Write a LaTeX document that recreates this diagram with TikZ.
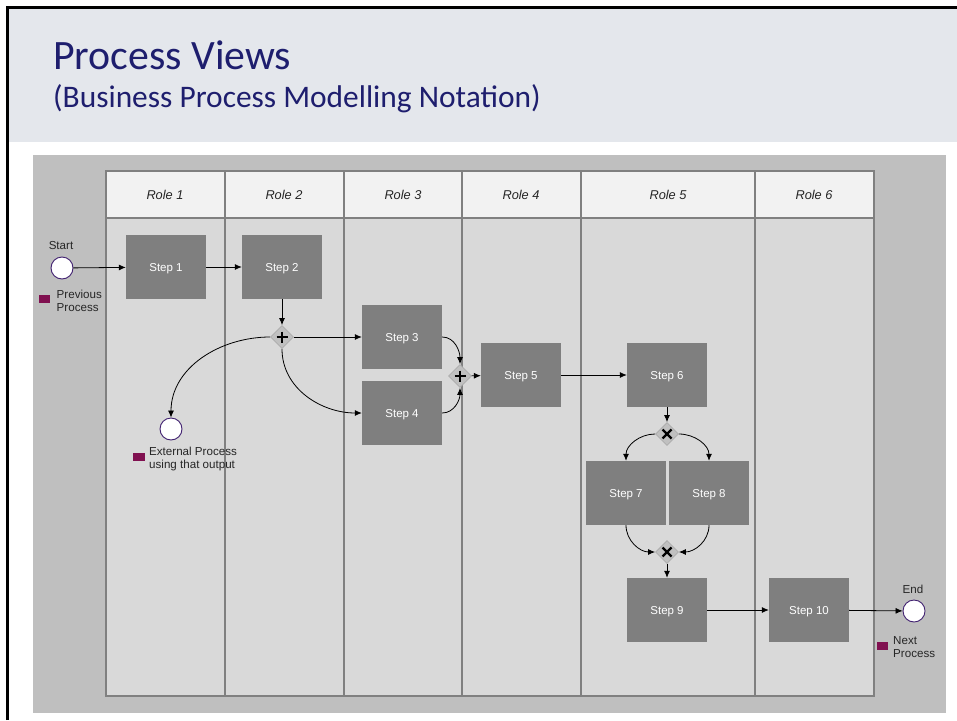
\documentclass[tikz,border=0pt]{standalone}
\usepackage{fontspec}
\setmainfont{Liberation Sans}
\newfontfamily\titlefont{Carlito}
\usetikzlibrary{shapes.geometric,arrows.meta}

\definecolor{hdrband}{RGB}{228,231,236}
\definecolor{panel}{RGB}{191,191,191}
\definecolor{lanefill}{RGB}{217,217,217}
\definecolor{rolefill}{RGB}{242,242,242}
\definecolor{laneline}{RGB}{128,128,128}
\definecolor{stepfill}{RGB}{127,127,127}
\definecolor{titlenavy}{RGB}{30,30,110}
\definecolor{procmarkfill}{RGB}{128,16,80}
\definecolor{evborder}{RGB}{64,32,112}
\definecolor{gwfill}{RGB}{192,192,192}
\definecolor{gwborder}{RGB}{172,172,172}

\tikzset{
  stepbox/.style={rectangle, fill=stepfill, minimum width=80pt, minimum height=64pt,
    inner sep=0pt, text=white, font=\fontsize{11.5}{13}\selectfont,
    text height=8.2pt, text depth=0pt},
  gateway/.style={diamond, fill=gwfill, draw=gwborder, line width=0.8pt,
    minimum width=23pt, minimum height=23pt, inner sep=0pt},
  event/.style={circle, fill=white, draw=evborder, line width=0.9pt,
    minimum size=22pt, inner sep=0pt},
  flow/.style={-{Latex[length=7pt,width=6pt]}, line width=0.8pt, black},
  roletext/.style={font=\fontsize{12.8}{14}\selectfont\itshape, text=black!85},
  smalltext/.style={font=\fontsize{11.6}{13.5}\selectfont, align=left, inner sep=0pt, text=black!85},
  procmark/.style={fill=procmarkfill, draw=none},
  plussign/.pic={\draw[line width=2.3pt] (-5.5,0) -- (5.5,0) (0,-5.5) -- (0,5.5);},
  xsign/.pic={\draw[line width=2.3pt] (-4.5,-4.5) -- (4.5,4.5) (-4.5,4.5) -- (4.5,-4.5);}
}

\begin{document}
\begin{tikzpicture}[x=1pt,y=-1pt]
  \useasboundingbox (0,0) rectangle (957,720);
  \fill[white] (0,0) rectangle (957,720);

  % slide header
  \fill[hdrband] (9,9) rectangle (957,142);
  \draw[line width=3pt] (7.5,720) -- (7.5,7.5) -- (957,7.5);
  \node[anchor=base west, inner sep=0pt, text=titlenavy, font=\titlefont\fontsize{41.8}{42}\selectfont]
    (title) at (53,69.5) {Process Views};
  \node[anchor=base west, inner sep=0pt, text=titlenavy, font=\titlefont\fontsize{31.4}{32}\selectfont]
    (subtitle) at (53,107) {(Business Process Modelling Notation)};

  % diagram backdrop and pool
  \fill[panel] (33,155) rectangle (946,713);
  \fill[lanefill] (106,171) rectangle (874,696);
  \fill[rolefill] (106,171) rectangle (874,218);
  \draw[laneline, line width=1.8pt] (106,171) rectangle (874,696);
  \draw[laneline, line width=1.5pt] (106,218) -- (874,218);
  \foreach \x in {225,344,462,581,755}
    \draw[laneline, line width=1.2pt] (\x,171) -- (\x,696);

  % role headers
  \node[roletext] (r1) at (165,195) {Role 1};
  \node[roletext] (r2) at (284,195) {Role 2};
  \node[roletext] (r3) at (403,195) {Role 3};
  \node[roletext] (r4) at (521,195) {Role 4};
  \node[roletext] (r5) at (668,195) {Role 5};
  \node[roletext] (r6) at (814,195) {Role 6};

  % activities
  \node[stepbox] (s1)  at (166,267) {Step 1};
  \node[stepbox] (s2)  at (282,267) {Step 2};
  \node[stepbox] (s3)  at (402,337) {Step 3};
  \node[stepbox] (s4)  at (402,413) {Step 4};
  \node[stepbox] (s5)  at (521,375) {Step 5};
  \node[stepbox] (s6)  at (667,375) {Step 6};
  \node[stepbox] (s7)  at (626,493) {Step 7};
  \node[stepbox] (s8)  at (709,493) {Step 8};
  \node[stepbox] (s9)  at (667,610) {Step 9};
  \node[stepbox] (s10) at (809,610) {Step 10};

  % gateways
  \node[gateway] (g1) at (282,337) {};
  \node[gateway] (g2) at (460,376) {};
  \node[gateway] (g3) at (667,434) {};
  \node[gateway] (g4) at (667,552) {};
  \pic at (g1) {plussign};
  \pic at (g2) {plussign};
  \pic at (g3) {xsign};
  \pic at (g4) {xsign};

  % events
  \node[event] (start) at (62,268) {};
  \node[event] (ext)   at (171,429) {};
  \node[event] (end)   at (914,611) {};

  \node[smalltext, anchor=base] (startlbl) at (61,249) {Start};
  \node[smalltext, anchor=base] (endlbl) at (913,593) {End};

  % labels of linked processes (anchored on the baseline of their second line)
  \fill[procmark] (39,295) rectangle (50,303);
  \node[smalltext, anchor=base west] (prevlbl) at (56.5,311.5) {Previous\\Process};
  \fill[procmark] (133,453) rectangle (145,461);
  \node[smalltext, anchor=base west] (extlbl) at (149,468.5) {External Process\\using that output};
  \fill[procmark] (877,642) rectangle (888,650);
  \node[smalltext, anchor=base west] (nextlbl) at (893,657.5) {Next\\Process};

  % sequence flows
  \draw[flow] (start) -- (s1);
  \draw[flow] (s1) -- (s2);
  \draw[flow] (s2) -- (g1);
  \draw[flow] (g1) -- (s3);
  \draw[flow] (g1.south) to[out=-90, in=180] (s4.west);
  \draw[flow] (g1.west) to[out=180, in=90] (ext.north);
  \draw[flow] (s3.east) to[out=0, in=90] (g2.north);
  \draw[flow] (s4.east) to[out=0, in=-90] (g2.south);
  \draw[flow] (g2) -- (s5);
  \draw[flow] (s5) -- (s6);
  \draw[flow] (s6) -- (g3);
  \draw[flow] (g3.west) to[out=180, in=90] (s7.north);
  \draw[flow] (g3.east) to[out=0, in=90] (s8.north);
  \draw[flow] (s7.south) to[out=-90, in=180] (g4.west);
  \draw[flow] (s8.south) to[out=-90, in=0] (g4.east);
  \draw[flow] (g4) -- (s9);
  \draw[flow] (s9) -- (s10);
  \draw[flow] (s10) -- (end);
\end{tikzpicture}
\end{document}
